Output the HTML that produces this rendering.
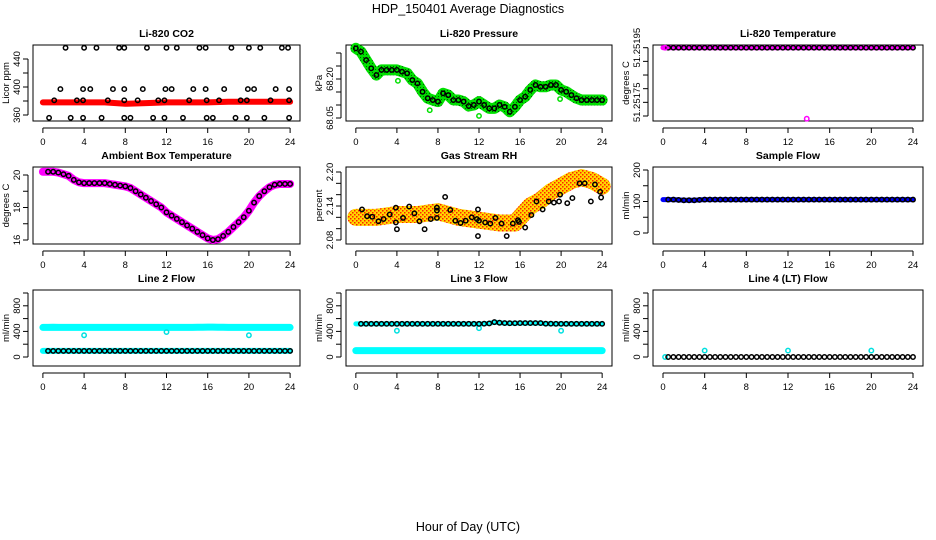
<!DOCTYPE html>
<html><head><meta charset="utf-8"><style>
body{margin:0;background:#fff}
svg{display:block;font-family:"Liberation Sans",sans-serif}
</style></head><body>
<svg id="c" width="936" height="540" viewBox="0 0 936 540">
<defs>
<pattern id="chk" width="4" height="4" patternUnits="userSpaceOnUse"><rect width="4" height="4" fill="#ffd800"/><rect width="1.5" height="1.5" fill="#ff2000"/><rect x="2" y="2" width="1.5" height="1.5" fill="#ff2000"/></pattern>
<pattern id="grn" width="3" height="3" patternUnits="userSpaceOnUse"><rect width="3" height="3" fill="#00e000"/><rect width="1" height="1" fill="#006000"/></pattern>
</defs>
<text x="468" y="13" font-size="12.5" text-anchor="middle">HDP_150401  Average Diagnostics</text>
<text x="468" y="531" font-size="12.5" text-anchor="middle">Hour of Day (UTC)</text>
</svg>
<script>
const halfHours=[0,0.5,1,1.5,2,2.5,3,3.5,4,4.5,5,5.5,6,6.5,7,7.5,8,8.5,9,9.5,10,10.5,11,11.5,12,12.5,13,13.5,14,14.5,15,15.5,16,16.5,17,17.5,18,18.5,19,19.5,20,20.5,21,21.5,22,22.5,23,23.5,24];
const xTicks=[0,4,8,12,16,20,24];
// CO2
const co2RedHours=[0,2,4,6,8,10,12,14,16,18,20,22,24];
const co2Red=[378,378,378,378,376,377,378,378,378,379,379,379,379];
const co2BlackHours=[2.2,4,5.2,7.4,7.9,10.1,12,13,15.2,15.8,18.3,20,21.1,23.2,23.8,1.7,3.9,4.6,6.8,7.9,9.7,11.9,12.5,14.6,15.8,17.6,19.9,20.5,22.6,23.9,1.1,3.3,3.9,6.3,7.9,9.2,11.2,11.8,14.2,15.9,17.1,19.2,19.8,22.1,23.9,0.6,2.7,3.9,5.7,7.9,8.5,10.7,11.8,13.6,15.9,16.5,18.7,19.8,21.5,23.9];
const co2Black=[456,456,456,456,456,456,456,456,456,456,456,456,456,456,456,397,397,397,397,397,397,397,397,397,397,397,397,397,397,397,381,381,381,381,381,381,381,381,381,381,381,381,381,381,381,356,356,356,356,356,356,356,356,356,356,356,356,356,356,356];
// Pressure
const pressure=[68.318,68.305,68.273,68.241,68.215,68.235,68.235,68.235,68.235,68.228,68.222,68.196,68.183,68.151,68.126,68.119,68.113,68.145,68.138,68.119,68.119,68.113,68.096,68.100,68.113,68.100,68.087,68.087,68.100,68.093,68.074,68.093,68.119,68.132,68.158,68.177,68.170,68.170,68.177,68.177,68.158,68.151,68.138,68.126,68.119,68.119,68.119,68.119,68.119];
const pressOutHours=[4.1,7.2,12,19.9];
const pressOut=[68.193,68.08,68.058,68.123];
// Li-820 temperature
const liTempHours=[0.2,13.8];
const liTemp=[51.25195,51.25169];
const liTempMain=51.25195;
// Ambient
const ambient=[20.2,20.2,20.2,20.15,20.05,19.95,19.7,19.55,19.5,19.5,19.5,19.5,19.5,19.45,19.4,19.35,19.3,19.2,19.0,18.8,18.6,18.4,18.2,18.0,17.7,17.5,17.3,17.1,16.9,16.7,16.5,16.3,16.1,16.0,16.05,16.25,16.5,16.8,17.1,17.4,17.8,18.3,18.7,19.0,19.25,19.4,19.45,19.45,19.45];
// RH
const rhBandHours=[0,2,4,6,8,10,12,14,15.5,16,17,18,19,20,21,22,23,24];
const rhBand=[2.12,2.12,2.125,2.125,2.13,2.12,2.115,2.11,2.11,2.12,2.14,2.15,2.165,2.175,2.185,2.19,2.185,2.175];
const rhHours=[0.6,1.1,1.6,2.2,2.7,3.3,3.9,3.9,4,4.6,5.2,5.7,6.2,6.7,7.3,7.9,7.9,7.9,8.7,9.2,9.7,10.2,10.7,11.3,11.9,11.8,12,11.9,12.6,13.1,13.6,14.2,14.7,15.3,15.8,15.9,16.5,17.1,17.6,18.2,18.8,19.3,19.8,19.9,20.6,21.1,21.8,22.3,22.9,23.3,23.8,23.9];
const rhBlack=[2.134,2.122,2.121,2.113,2.117,2.125,2.137,2.111,2.099,2.119,2.139,2.127,2.113,2.099,2.117,2.137,2.132,2.119,2.156,2.133,2.114,2.110,2.114,2.120,2.134,2.117,2.114,2.087,2.111,2.109,2.119,2.109,2.087,2.109,2.115,2.112,2.102,2.124,2.148,2.134,2.148,2.146,2.148,2.160,2.145,2.154,2.180,2.180,2.148,2.178,2.165,2.155];
// Flows
const sampleFlow=[106,106,106,105,104,104,104,105,106,106,106,106,106,106,106,106,106,106,106,106,106,106,106,106,106,106,106,106,106,106,106,106,106,106,106,106,106,106,106,106,106,106,106,106,106,106,106,106,106];
const line2High=[462,462,464,462,462,462,462,462,462,462,462,462,462,462,462,462,462,462,462,462,462,462,462,462,462,462,462,462,462,462,464,464,466,466,464,464,462,462,462,462,462,462,462,462,462,462,462,462,462];
const line2Low=[95,95,95,95,95,95,95,95,95,95,95,95,95,95,95,95,95,95,95,95,95,95,95,95,95,95,95,95,95,95,95,95,95,95,95,95,95,95,95,95,95,95,95,95,95,95,95,95,95];
const line3High=[518,518,518,518,518,518,518,518,518,518,518,518,518,518,518,518,518,518,518,518,518,518,518,518,518,520,525,545,535,530,528,528,530,530,530,530,530,520,520,518,518,518,518,518,518,518,518,518,518];
const line3Low=[100,100,100,100,100,100,100,100,100,100,100,100,100,100,100,100,100,100,100,100,100,100,100,100,100,100,100,100,100,100,100,100,100,100,100,100,100,100,100,100,100,100,100,100,100,100,100,100,100];
const line4=[0,0,0,0,0,0,0,0,0,0,0,0,0,0,0,0,0,0,0,0,0,0,0,0,0,0,0,0,0,0,0,0,0,0,0,0,0,0,0,0,0,0,0,0,0,0,0,0,0];
const cyanOutHours=[4,12,20];
const line2Out=[340,390,340];
const line3Out=[410,450,410];
const line4Out=[100,100,100];

const NS='http://www.w3.org/2000/svg';
const svg=document.getElementById('c');
function mk(tag,attrs,parent){const e=document.createElementNS(NS,tag);for(const k in attrs)e.setAttribute(k,attrs[k]);(parent||svg).appendChild(e);return e;}
const cols=[[33,300],[346,612],[653,923]];
const rows=[[45,121],[167,244],[290,366]];

function panel(name,title,ylab,c,r,v1,p1,v2,p2,ticks,labels){
  const g=mk('g',{});
  
  
  const [L,R]=cols[c],[T,B]=rows[r];
  const X=h=>L+(h+0.96)/25.92*(R-L);
  const Y=v=>p1+(v-v1)/(v2-v1)*(p2-p1);
  const box=mk('rect',{x:L,y:T,width:R-L,height:B-T,fill:'none',stroke:'#000','stroke-width':1},g);
  
  
  const t=mk('text',{x:(L+R)/2,y:T-8,'font-size':10.5,'font-weight':'bold','text-anchor':'middle'},g);
  t.textContent=title;
  
  
  const xa=mk('g',{},g);
  
  
  mk('line',{x1:X(0),x2:X(24),y1:B+7,y2:B+7,stroke:'#000'},xa);
  xTicks.forEach(h=>{mk('line',{x1:X(h),x2:X(h),y1:B+7,y2:B+12,stroke:'#000'},xa);
    const tl=mk('text',{x:X(h),y:B+24,'font-size':9.5,'text-anchor':'middle'},xa);tl.textContent=h;
    
    });
  const ya=mk('g',{},g);
  
  
  mk('line',{x1:L-5,x2:L-5,y1:Y(ticks[0]),y2:Y(ticks[ticks.length-1]),stroke:'#000'},ya);
  ticks.forEach(v=>mk('line',{x1:L-10,x2:L-5,y1:Y(v),y2:Y(v),stroke:'#000'},ya));
  labels.forEach(v=>{const tl=mk('text',{x:0,y:0,'font-size':9.5,'text-anchor':'middle',transform:`translate(${L-13},${Y(v)}) rotate(-90)`},ya);tl.textContent=v;
    
    });
  const yl=mk('text',{x:0,y:0,'font-size':9.5,'text-anchor':'middle',transform:`translate(${L-24},${(T+B)/2}) rotate(-90)`},g);
  yl.textContent=ylab;
  
  
  return {g,X,Y};
}
function band(p,hs,vs,color,w,name){
  const pl=mk('polyline',{points:hs.map((h,i)=>p.X(h)+','+p.Y(vs[i])).join(' '),fill:'none',stroke:color,'stroke-width':w,'stroke-linejoin':'round','stroke-linecap':'round'},p.g);
  
  
}
function pts(p,hs,vs,color,name,r){
  const g=mk('g',{},p.g);
  
  
  hs.forEach((h,i)=>mk('circle',{cx:p.X(h),cy:p.Y(vs[i]),r:r||2.2,fill:'none',stroke:color,'stroke-width':1.5},g));
}

let p;
p=panel('co2-panel','Li-820 CO2','Licor ppm',0,0,360,115,440,59,[360,380,400,420,440],[360,400,440]);
band(p,co2RedHours,co2Red,'#ff0000',6,'co2-red-series');
pts(p,co2BlackHours,co2Black,'#000','co2-black-points');

p=panel('pressure-panel','Li-820 Pressure','kPa',1,0,68.05,118,68.20,79,[68.05,68.10,68.15,68.20,68.25,68.30],['68.05','68.20']);
band(p,halfHours,pressure,'url(#grn)',11,'pressure-green-series');
pts(p,pressOutHours,pressOut,'#00e000','pressure-green-outliers');
pts(p,halfHours,pressure,'#000','pressure-black-points');

p=panel('li820-temp-panel','Li-820 Temperature','degrees C',2,0,51.2517,116,51.25195,47.7,[51.2517,51.25175,51.2518,51.25185,51.2519,51.25195],['51.25175','51.25195']);
band(p,[0,24],[liTempMain,liTempMain],'#ff00ff',5,'li820-temp-magenta-series');
pts(p,halfHours.slice(1),halfHours.slice(1).map(()=>liTempMain),'#000','li820-temp-black-points');
pts(p,liTempHours,liTemp,'#ff00ff','li820-temp-magenta-points');

p=panel('ambient-panel','Ambient Box Temperature','degrees C',0,1,16,240,20,175,[16,17,18,19,20],[16,18,20]);
band(p,halfHours,ambient,'#ff00ff',8,'ambient-magenta-series');
pts(p,halfHours.slice(1),ambient.slice(1),'#000','ambient-black-points');

p=panel('rh-panel','Gas Stream RH','percent',1,1,2.08,240,2.20,172,[2.08,2.10,2.12,2.14,2.16,2.18,2.20],['2.08','2.14','2.20']);
band(p,rhBandHours,rhBand,'url(#chk)',17,'rh-orange-series');
pts(p,rhHours,rhBlack,'#000','rh-black-points');

p=panel('sample-flow-panel','Sample Flow','ml/min',2,1,0,233,200,170,[0,50,100,150,200],[0,100,200]);
band(p,halfHours,sampleFlow,'#0000ff',5,'sample-flow-blue-series');
pts(p,halfHours.slice(1),sampleFlow.slice(1),'#000','sample-flow-black-points');

const rowTicks=[0,200,400,600,800,1000];
p=panel('line2-flow-panel','Line 2 Flow','ml/min',0,2,0,357,1000,293,rowTicks,[0,400,800]);
band(p,halfHours,line2High,'#00ffff',7,'line2-cyan-high');
band(p,halfHours,line2Low,'#00ffff',6,'line2-cyan-low');
pts(p,cyanOutHours,line2Out,'#00e0e0','line2-cyan-outliers');
pts(p,halfHours.slice(1),line2Low.slice(1),'#000','line2-black-points');

p=panel('line3-flow-panel','Line 3 Flow','ml/min',1,2,0,357,1000,293,rowTicks,[0,400,800]);
band(p,halfHours,line3Low,'#00ffff',7,'line3-cyan-low');
band(p,halfHours,line3High,'#00ffff',5,'line3-cyan-high');
pts(p,cyanOutHours,line3Out,'#00e0e0','line3-cyan-outliers');
pts(p,halfHours.slice(1),line3High.slice(1),'#000','line3-black-points');

p=panel('line4-flow-panel','Line 4 (LT) Flow','ml/min',2,2,0,357,1000,293,rowTicks,[0,400,800]);
pts(p,[0.2],[0],'#00e0e0','line4-cyan-start');
pts(p,halfHours.slice(1),line4.slice(1),'#000','line4-black-points');
pts(p,cyanOutHours,line4Out,'#00e0e0','line4-cyan-outliers');
</script>
</body></html>
